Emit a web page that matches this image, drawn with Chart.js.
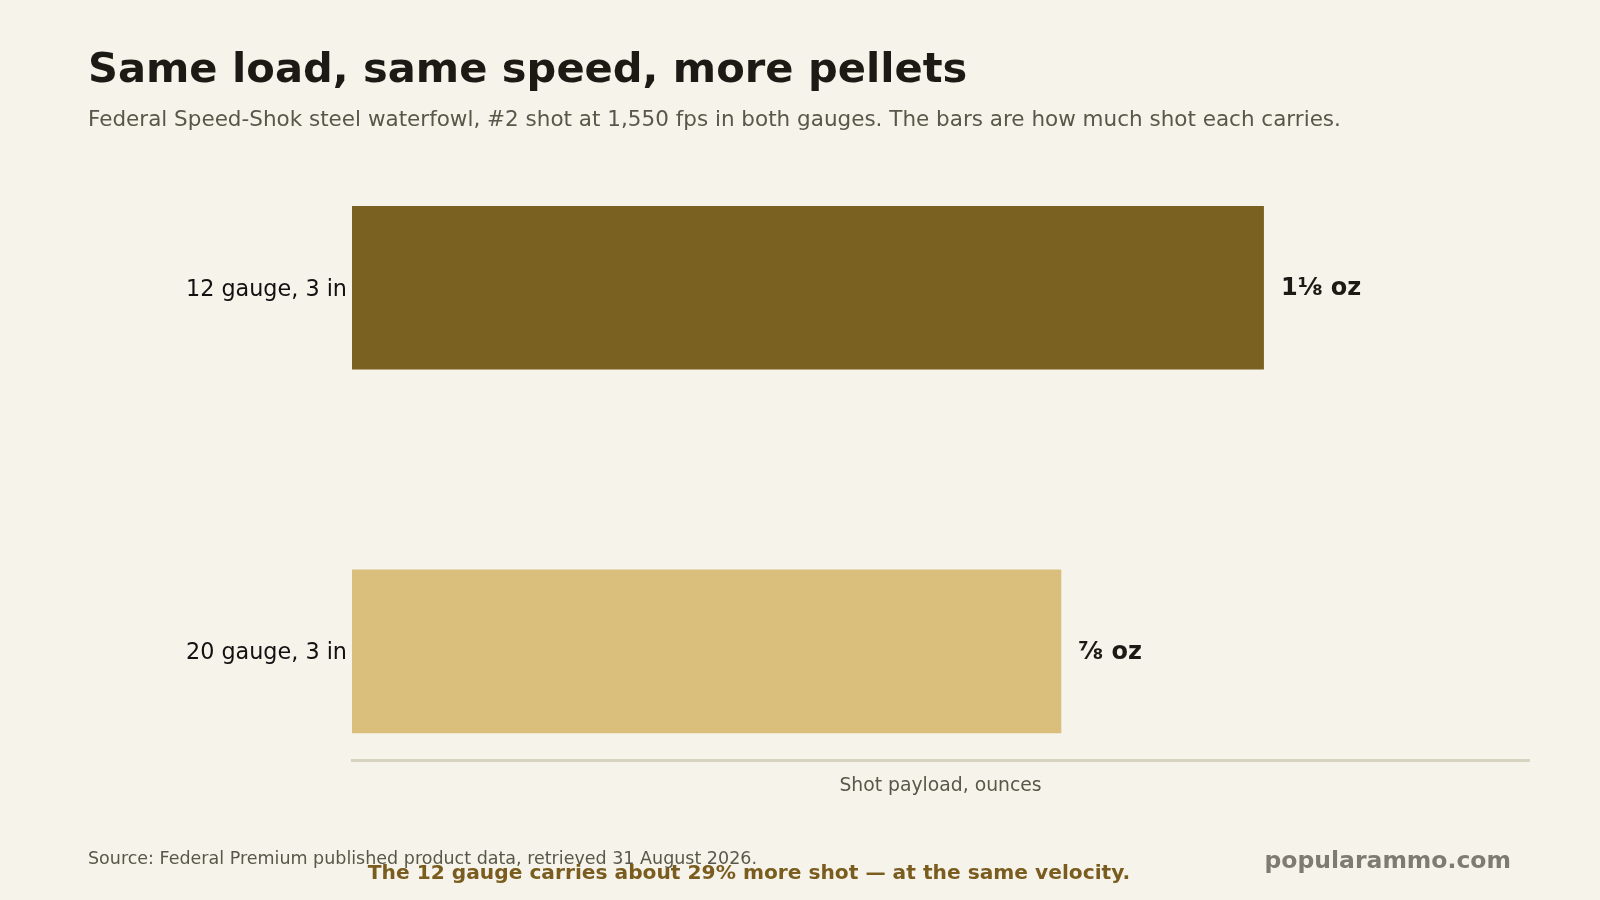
<!DOCTYPE html>
<html>
<head>
  <title>Same load, same speed, more pellets</title>
  <script src="https://cdn.jsdelivr.net/npm/chart.js"></script>
  <style>
    html, body { margin: 0; padding: 0; background: #f6f3eb; }
    body { width: 1600px; height: 900px; position: relative; overflow: hidden; font-family: "DejaVu Sans", sans-serif; }
    .txt { position: absolute; line-height: 1; white-space: nowrap; }
    #title { left: 88px; top: 46.5px; font-size: 41.6px; font-weight: bold; color: #1c1a14; }
    #subtitle { left: 88px; top: 107.5px; font-size: 21.5px; color: #5a5648; }
    #source { left: 88px; top: 850px; font-size: 17.5px; color: #5a5648; }
    #note { left: 749px; top: 862px; font-size: 20.2px; font-weight: bold; color: #7a5c1e; transform: translateX(-50%); }
    #brand { right: 89px; top: 849px; font-size: 23.5px; font-weight: bold; color: #7f7b72; }
    #wrap { position: absolute; left: 0; top: 0; width: 1600px; height: 900px; }
  </style>
</head>
<body>
  <div id="wrap"><canvas id="chart"></canvas></div>
  <div class="txt" id="title">Same load, same speed, more pellets</div>
  <div class="txt" id="subtitle">Federal Speed-Shok steel waterfowl, #2 shot at 1,550 fps in both gauges. The bars are how much shot each carries.</div>
  <div class="txt" id="source">Source: Federal Premium published product data, retrieved 31 August 2026.</div>
  <div class="txt" id="note">The 12 gauge carries about 29% more shot — at the same velocity.</div>
  <div class="txt" id="brand">popularammo.com</div>

  <script>
    const gauges = ['12 gauge, 3 in', '20 gauge, 3 in'];
    const payloadOz = [1.125, 0.875];
    const payloadLabels = ['1⅛ oz', '⅞ oz'];
    const barColors = ['#7a6121', '#d9be7c'];

    // value labels at the end of each bar
    const valueLabels = {
      id: 'valueLabels',
      afterDatasetsDraw(chart) {
        const ctx = chart.ctx;
        const meta = chart.getDatasetMeta(0);
        ctx.save();
        ctx.font = 'bold 24px "DejaVu Sans"';
        ctx.fillStyle = '#1c1a14';
        ctx.textAlign = 'left';
        ctx.textBaseline = 'middle';
        meta.data.forEach((bar, i) => {
          ctx.fillText(payloadLabels[i], bar.x + 17, bar.y + 1);
        });
        ctx.restore();
      }
    };

    const ctx = document.getElementById('chart').getContext('2d');
    new Chart(ctx, {
      type: 'bar',
      data: {
        datasets: [{
          data: payloadOz.map((v, i) => ({ x: v, y: i })),
          backgroundColor: barColors,
          borderWidth: 0,
          barPercentage: 0.45,
          categoryPercentage: 1
        }]
      },
      options: {
        indexAxis: 'y',
        responsive: true,
        maintainAspectRatio: false,
        animation: false,
        layout: { padding: { left: 0, right: 71, top: 106, bottom: 103 } },
        plugins: {
          legend: { display: false },
          tooltip: { enabled: false }
        },
        scales: {
          x: {
            type: 'linear',
            min: 0,
            max: 1.452,
            ticks: { display: false },
            grid: { display: false, drawTicks: false },
            border: { display: true, color: '#d8d2c0', width: 3 },
            title: {
              display: true,
              text: 'Shot payload, ounces',
              color: '#5a5648',
              font: { family: 'DejaVu Sans', size: 18.8 },
              padding: { top: 14, bottom: 0 }
            }
          },
          y: {
            // linear index axis so the gap below the last bar can differ from the top
            type: 'linear',
            reverse: true,
            offset: false,
            min: -0.5,
            max: 1.3,
            afterBuildTicks(scale) {
              scale.ticks = gauges.map((_, i) => ({ value: i }));
            },
            afterFit(scale) { scale.width = 352; },
            ticks: {
              padding: 5,
              labelOffset: 2,
              color: '#111111',
              font: { family: 'DejaVu Sans', size: 22.3 },
              callback: (v) => gauges[v]
            },
            grid: { display: false, drawTicks: false },
            border: { display: false }
          }
        }
      },
      plugins: [valueLabels]
    });
  </script>
</body>
</html>
